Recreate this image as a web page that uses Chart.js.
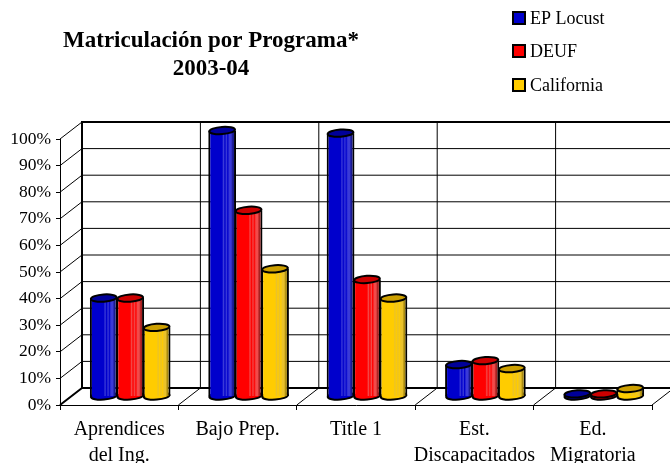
<!DOCTYPE html>
<html><head><meta charset="utf-8">
<style>html,body{margin:0;padding:0;background:#fff}canvas{display:block}</style>
<script src="https://cdn.jsdelivr.net/npm/chart.js@4"></script>
</head><body><canvas id="c" width="670" height="463"></canvas>
<script>
const titleLines = ["Matriculación por Programa*", "2003-04"];
const categories = [["Aprendices","del Ing."],"Bajo Prep.","Title 1",["Est.","Discapacitados"],["Ed.","Migratoria"]];
const seriesNames = ["EP Locust","DEUF","California"];
const epLocust = [37,100,99,12,1];
const deuf = [37,70,44,13.5,1];
const california = [26,48,37,10.5,3];
const baseColors = ["#0000cc","#ff0000","#ffcc00"];
const lightColors = ["#3a3ad8","#f24a4a","#eac22a"];
const darkColors = ["#1a1a90","#a82020","#a88a10"];
const capColors = ["#000099","#cc0000","#cc9f00"];
const FONT = "'Liberation Serif', serif";
const DX = 22, DY = 17;

function stripes(ctx){
  const ds = ctx.datasetIndex, chart = ctx.chart;
  if (ctx.dataIndex === undefined || !chart.chartArea) return baseColors[ds];
  const cx = chart.scales.x.getPixelForValue(ctx.dataIndex) + (ds-1)*26.5;
  const g = chart.ctx.createLinearGradient(cx-14,0,cx+14,0);
  const b = baseColors[ds], l = lightColors[ds], d = darkColors[ds];
  [[0,b],[0.5,b],[0.55,l],[0.6,b],[0.66,l],[0.7,b],[0.76,l],[0.82,l],[0.88,d],[1,d]]
    .forEach(s=>g.addColorStop(s[0],s[1]));
  return g;
}
function ell(c,x,y,rx,ry,fill){
  c.beginPath(); c.ellipse(x,y,rx,ry,-0.07,0,Math.PI*2);
  c.fillStyle=fill; c.fill();
  c.lineWidth=2; c.strokeStyle="#000"; c.stroke();
}
const wall = {
  id:"wall",
  beforeDatasetsDraw(chart){
    const c=chart.ctx, a=chart.chartArea, y=chart.scales.y;
    c.save(); c.strokeStyle="#000"; c.lineWidth=1;
    y.ticks.forEach((t,i)=>{
      const py=y.getPixelForTick(i);
      c.beginPath(); c.moveTo(a.left,py); c.lineTo(a.left+DX,py-DY);
      c.lineTo(chart.width,py-DY); c.stroke();
    });
    const n=categories.length, w=(a.right-a.left)/n;
    for(let i=1;i<=n;i++){
      const px=a.left+i*w;
      c.beginPath(); c.moveTo(px,a.bottom); c.lineTo(px+DX,a.bottom-DY); c.lineTo(px+DX,a.top-DY); c.stroke();
    }
    c.lineWidth=2;
    c.beginPath(); c.moveTo(chart.width,a.top-DY); c.lineTo(a.left+DX,a.top-DY);
    c.lineTo(a.left+DX,a.bottom-DY); c.lineTo(chart.width,a.bottom-DY); c.stroke();
    c.beginPath(); c.moveTo(a.left,a.bottom); c.lineTo(a.left+DX,a.bottom-DY); c.stroke();
    c.restore();
  },
  beforeDatasetDraw(chart,args){
    const c=chart.ctx; c.save(); c.translate(DX/2,-DY/2);
    args.meta.data.forEach(b=>ell(c,b.x,b.base,b.width/2-1,3.6,baseColors[args.index]));
  },
  afterDatasetDraw(chart,args){
    const c=chart.ctx;
    args.meta.data.forEach(b=>ell(c,b.x,b.y,b.width/2-1,3.6,capColors[args.index]));
    c.restore();
  },
  afterDraw(chart){
    const c=chart.ctx; c.save();
    c.fillStyle="#000"; c.textBaseline="middle";
    c.textAlign="center"; c.font="bold 23px "+FONT;
    titleLines.forEach((t,i)=>c.fillText(t,211,41+i*28));
    c.textAlign="left"; c.font="18px "+FONT;
    seriesNames.forEach((s,i)=>{
      const y=[18,51,85][i];
      c.fillStyle=baseColors[i]; c.strokeStyle="#000"; c.lineWidth=2;
      c.fillRect(513,y-6,12,12); c.strokeRect(513,y-6,12,12);
      c.fillStyle="#000"; c.fillText(s,530,y+1);
    });
    c.restore();
  }
};
const mk=(i,data)=>({label:seriesNames[i],data,clip:false,
  backgroundColor:stripes,borderColor:"#000",
  borderWidth:{left:2,right:2,top:0,bottom:0},borderSkipped:false,
  categoryPercentage:0.67,barPercentage:1.05});
new Chart(document.getElementById("c"),{
  type:"bar",
  data:{labels:categories,datasets:[mk(0,epLocust),mk(1,deuf),mk(2,california)]},
  plugins:[wall],
  options:{
    responsive:false,animation:false,
    layout:{padding:{top:139,right:18,left:0,bottom:0}},
    plugins:{legend:{display:false},tooltip:{enabled:false}},
    scales:{
      x:{offset:true,
        afterFit(s){s.height=58;},
        grid:{drawOnChartArea:false,color:"#000",tickLength:5,offset:true},
        border:{color:"#000",width:1},
        ticks:{color:"#000",maxRotation:0,autoSkip:false,padding:6,font:{family:FONT,size:20,lineHeight:1.33}}},
      y:{min:0,max:100,
        afterFit(s){s.width=60;},
        grid:{drawOnChartArea:false,color:"#000",tickLength:4},
        border:{color:"#000",width:1},
        ticks:{color:"#000",stepSize:10,padding:5,callback:v=>v+"%",font:{family:FONT,size:17.5}}}
    }
  }
});
</script></body></html>
